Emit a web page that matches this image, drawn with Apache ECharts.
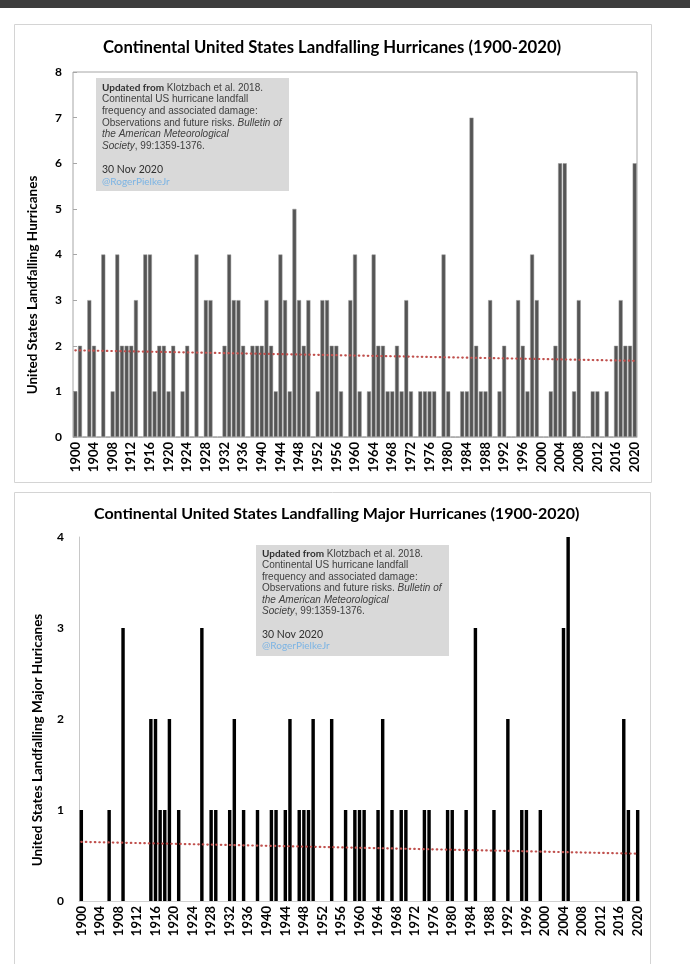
<!DOCTYPE html>
<html>
<head>
<meta charset="utf-8">
<script src="https://cdn.jsdelivr.net/npm/echarts@6/dist/echarts.min.js"></script>
<style>
  html, body { margin: 0; padding: 0; background: #ffffff; }
  #chart { width: 690px; height: 964px; }
</style>
</head>
<body>
<div id="chart"></div>
<script>
// ---- Data ----
const years = [];
for (let y = 1900; y <= 2020; y++) years.push(String(y));

// Continental US landfalling hurricanes per year (1900-2020)
const hurricanes = [
  1,2,0,3,2,0,4,0,1,4,   // 1900s
  2,2,2,3,0,4,4,1,2,2,   // 1910s
  1,2,0,1,2,0,4,0,3,3,   // 1920s
  0,0,2,4,3,3,2,0,2,2,   // 1930s
  2,3,2,1,4,3,1,5,3,2,   // 1940s
  3,0,1,3,3,2,2,1,0,3,   // 1950s
  4,1,0,1,4,2,2,1,1,2,   // 1960s
  1,3,1,0,1,1,1,1,0,4,   // 1970s
  1,0,0,1,1,7,2,1,1,3,   // 1980s
  0,1,2,0,0,3,2,1,4,3,   // 1990s
  0,0,1,2,6,6,0,1,3,0,   // 2000s
  0,1,1,0,1,0,2,3,2,2,6  // 2010-2020
];

// Continental US landfalling major hurricanes per year (1900-2020)
const majorHurricanes = [
  1,0,0,0,0,0,1,0,0,3,
  0,0,0,0,0,2,2,1,1,2,
  0,1,0,0,0,0,3,0,1,1,
  0,0,1,2,0,1,0,0,1,0,
  0,1,1,0,1,2,0,1,1,1,
  2,0,0,0,2,0,0,1,0,1,
  1,1,0,0,1,2,0,1,0,1,
  1,0,0,0,1,1,0,0,0,1,
  1,0,0,1,0,3,0,0,0,1,
  0,0,2,0,0,1,1,0,0,1,
  0,0,0,0,3,4,0,0,0,0,
  0,0,0,0,0,0,0,2,1,0,1
];

// Trend line endpoints [1900, 2020]
const trendTop = [1.9, 1.67];
const trendMajor = [0.65, 0.52];

const yTicksTop = [0, 8, 1];    // min, max, interval
const yTicksMajor = [0, 4, 1];

const titleTop = 'Continental United States Landfalling Hurricanes (1900-2020)';
const titleMajor = 'Continental United States Landfalling Major Hurricanes (1900-2020)';
const yNameTop = 'United States Landfalling Hurricanes';
const yNameMajor = 'United States Landfalling Major Huricanes';

// ---- Chart ----
const chart = echarts.init(document.getElementById('chart'), null, { renderer: 'canvas' });

const boldFont = 'Lato';
const noteRich = (size, lh) => ({
  b: { fontFamily: 'Lato', fontWeight: 'bold', fontSize: size, fill: '#303030', lineHeight: lh },
  r: { fontFamily: 'Liberation Sans', fontSize: size, fill: '#404040', lineHeight: lh },
  i: { fontFamily: 'Liberation Sans', fontStyle: 'italic', fontSize: size, fill: '#404040', lineHeight: lh },
  d: { fontFamily: 'Lato', fontSize: size + 0.5, fill: '#303030', lineHeight: lh },
  t: { fontFamily: 'Lato', fontSize: size, fill: '#7cb4e4', lineHeight: lh }
});
const noteText =
  '{b|Updated from}{r| Klotzbach et al. 2018.}\n' +
  '{r|Continental US hurricane landfall}\n' +
  '{r|frequency and associated damage:}\n' +
  '{r|Observations and future risks. }{i|Bulletin of}\n' +
  '{i|the American Meteorological}\n' +
  '{i|Society}{r|, 99:1359-1376.}\n' +
  '{r| }\n' +
  '{d|30 Nov 2020}\n' +
  '{t|@RogerPielkeJr}';

const axisLabelStyle = {
  interval: 3, rotate: 90, fontFamily: boldFont, fontWeight: 'bold',
  fontSize: 13, color: '#000', margin: 5
};

const trendStyle = { color: '#c0504d', width: 2.2, type: [0.5, 4], cap: 'round' };

const option = {
  animation: false,
  backgroundColor: '#ffffff',
  title: [
    { text: titleTop, left: 98, top: 34,
      textStyle: { fontFamily: boldFont, fontWeight: 'bold', fontSize: 16.7, color: '#000' } },
    { text: titleMajor, left: 89, top: 501,
      textStyle: { fontFamily: boldFont, fontWeight: 'bold', fontSize: 16, color: '#000' } }
  ],
  graphic: [
    { type: 'rect', z: -10, shape: { x: 0, y: 0, width: 690, height: 8 }, style: { fill: '#3d3d3d' } },
    { type: 'rect', z: -10, shape: { x: 14.5, y: 24.5, width: 637, height: 458 },
      style: { fill: '#ffffff', stroke: '#d4d4d4', lineWidth: 1 } },
    { type: 'rect', z: -10, shape: { x: 14.5, y: 492.5, width: 636, height: 480 },
      style: { fill: '#ffffff', stroke: '#d4d4d4', lineWidth: 1 } },
    { type: 'rect', z: 10, shape: { x: 96, y: 78, width: 193, height: 113 }, style: { fill: '#d9d9d9' } },
    { type: 'text', z: 11, style: { x: 102, y: 82, text: noteText, rich: noteRich(10, 11.7),
      fontSize: 10, lineHeight: 11.7, verticalAlign: 'top', align: 'left' } },
    { type: 'rect', z: 10, shape: { x: 256, y: 545, width: 193, height: 111 }, style: { fill: '#d9d9d9' } },
    { type: 'text', z: 11, style: { x: 262, y: 548, text: noteText, rich: noteRich(10, 11.5),
      fontSize: 10, lineHeight: 11.5, verticalAlign: 'top', align: 'left' } },
    { type: 'text', x: 33, y: 285, rotation: Math.PI / 2,
      style: { text: yNameTop, fontFamily: boldFont, fontWeight: 'bold', fontSize: 13.5, fill: '#000',
        align: 'center', verticalAlign: 'middle' } },
    { type: 'text', x: 38, y: 740, rotation: Math.PI / 2,
      style: { text: yNameMajor, fontFamily: boldFont, fontWeight: 'bold', fontSize: 13.5, fill: '#000',
        align: 'center', verticalAlign: 'middle' } }
  ],
  grid: [
    { left: 73, top: 72, width: 564, height: 365, show: true, borderColor: '#a6a6a6', borderWidth: 1,
      backgroundColor: 'rgba(0,0,0,0)' },
    { left: 79, top: 537, width: 561, height: 364 }
  ],
  xAxis: [
    { gridIndex: 0, type: 'category', data: years,
      axisLine: { lineStyle: { color: '#bfbfbf' } }, axisTick: { show: false },
      axisLabel: axisLabelStyle },
    { gridIndex: 1, type: 'category', data: years,
      axisLine: { lineStyle: { color: '#d0d0d0' } }, axisTick: { show: false },
      axisLabel: axisLabelStyle }
  ],
  yAxis: [
    { gridIndex: 0, type: 'value', min: yTicksTop[0], max: yTicksTop[1], interval: yTicksTop[2],
      splitLine: { show: false }, axisLine: { show: false },
      axisTick: { show: true, inside: true, length: 4, lineStyle: { color: '#a6a6a6' } },
      axisLabel: { fontFamily: boldFont, fontWeight: 'bold', fontSize: 12, color: '#000', margin: 11 } },
    { gridIndex: 1, type: 'value', min: yTicksMajor[0], max: yTicksMajor[1], interval: yTicksMajor[2],
      splitLine: { show: false }, axisLine: { show: true, lineStyle: { color: '#c8c8c8' } },
      axisTick: { show: false },
      axisLabel: { fontFamily: boldFont, fontWeight: 'bold', fontSize: 12, color: '#000', margin: 15 } }
  ],
  series: [
    { type: 'bar', xAxisIndex: 0, yAxisIndex: 0, data: hurricanes, barCategoryGap: '14%',
      itemStyle: { color: '#555555', borderColor: '#9a9a9a', borderWidth: 0.5 } },
    { type: 'line', xAxisIndex: 0, yAxisIndex: 0, z: 5, symbol: 'none',
      data: [[years[0], trendTop[0]], [years[years.length - 1], trendTop[1]]],
      lineStyle: trendStyle },
    { type: 'bar', xAxisIndex: 1, yAxisIndex: 1, data: majorHurricanes, barCategoryGap: '26%',
      itemStyle: { color: '#000000' } },
    { type: 'line', xAxisIndex: 1, yAxisIndex: 1, z: 5, symbol: 'none',
      data: [[years[0], trendMajor[0]], [years[years.length - 1], trendMajor[1]]],
      lineStyle: trendStyle }
  ]
};
chart.setOption(option);
</script>
</body>
</html>
